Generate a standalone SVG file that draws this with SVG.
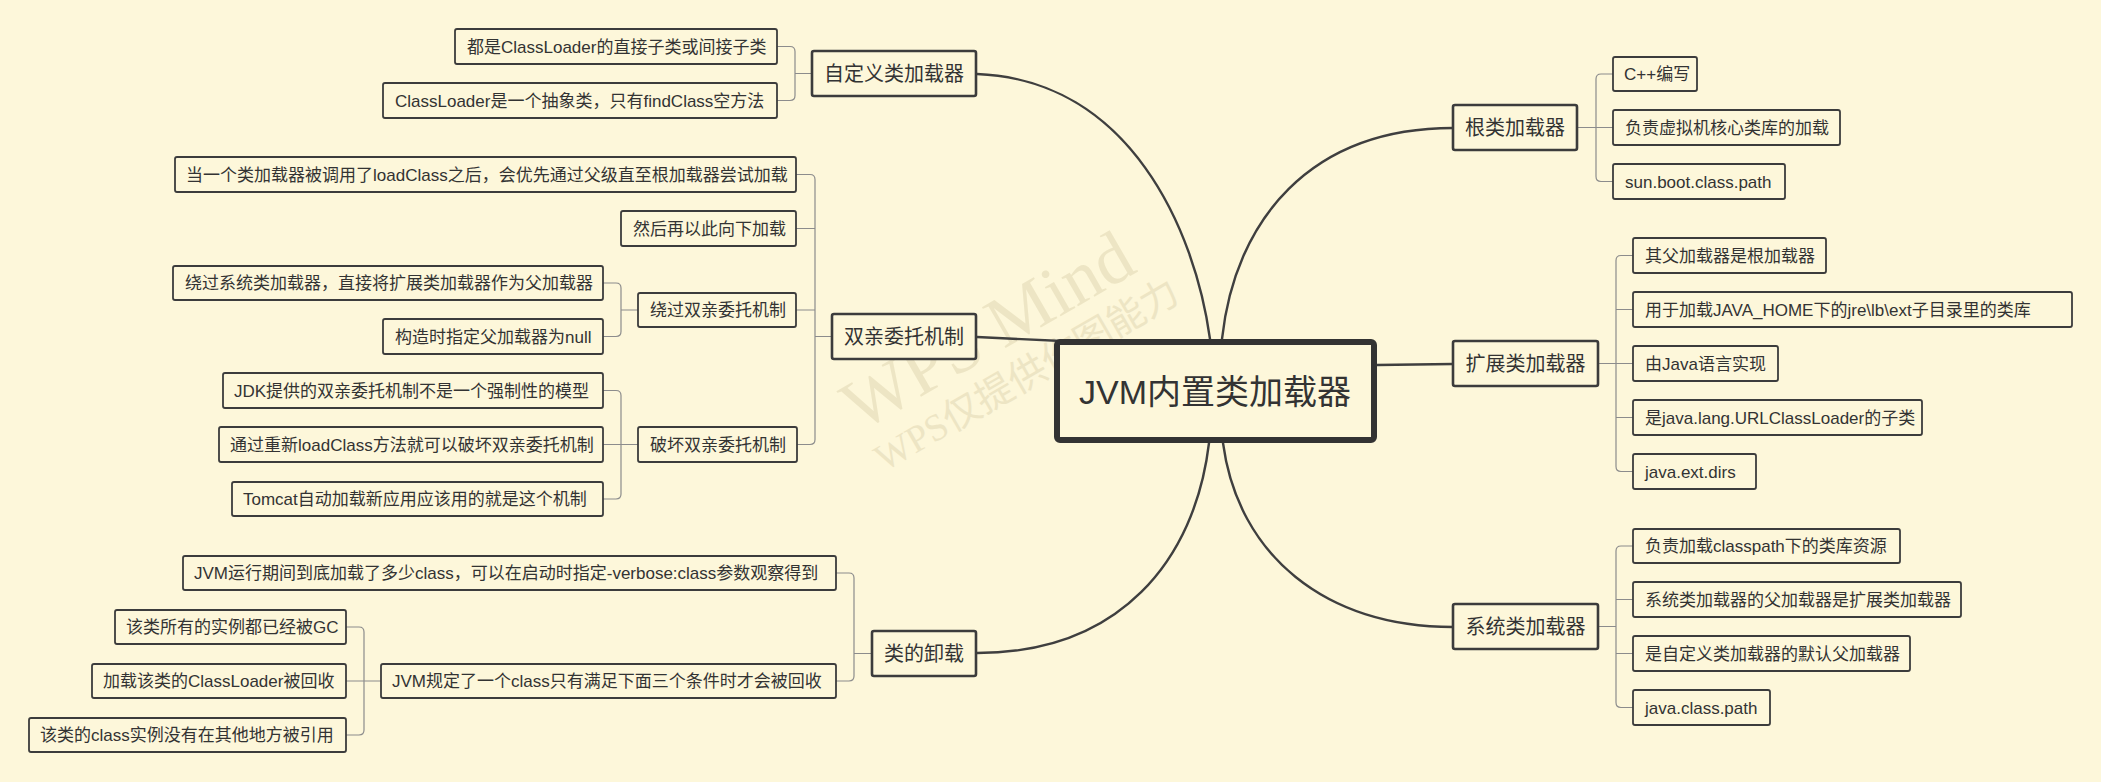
<svg xmlns="http://www.w3.org/2000/svg" width="2101" height="782" viewBox="0 0 2101 782">
<style>
text{font-family:"Liberation Sans","Noto Sans CJK SC",sans-serif;fill:#333333;}
.leaf rect{fill:#fdf7da;stroke:#3c3c3c;stroke-width:1.8;}
.leaf text{font-size:17px;text-anchor:start;}
.main rect{fill:#fdf7da;stroke:#3c3c3c;stroke-width:2.6;}
.main text{font-size:20px;text-anchor:middle;}
.br{fill:none;stroke:#8c8c8c;stroke-width:1.2;}
.trunk{fill:none;stroke:#3f3f3f;stroke-width:2.4;stroke-linecap:round;}
.wm{font-family:"Liberation Serif","Noto Sans CJK SC",serif;fill:#ede5c4;}
</style>
<rect x="0" y="0" width="2101" height="782" fill="#fdf7da"/>

<g id="watermark">
<text class="wm" x="860" y="432" font-size="72" transform="rotate(-30 860 432)">WPS Mind</text>
<text class="wm" x="884" y="472" font-size="38" transform="rotate(-30 884 472)">WPS仅提供作图能力</text>
</g>

<g id="connectors">
<path class="trunk" d="M1210,339 C1195,230 1130,80 977,74"/>
<path class="trunk" d="M1222,339 C1235,220 1310,128 1453,128"/>
<path class="trunk" d="M1209,443 C1195,560 1120,653 977,653"/>
<path class="trunk" d="M1223,443 C1238,555 1325,627 1453,627"/>
<path class="trunk" d="M977,337 L1062,341"/>
<path class="trunk" d="M1377,365 L1453,364"/>

<path class="br" d="M812,73.5 H795 M777,46.5 H790 Q795,46.5 795,51.5 V95.5 Q795,100.5 790,100.5 H777"/>
<path class="br" d="M832,336.5 H815 M796,174.5 H810 Q815,174.5 815,179.5 V439.5 Q815,444.5 810,444.5 H796 M815,228.5 H796 M815,310 H796"/>
<path class="br" d="M638,310 H621 M603,283 H616 Q621,283 621,288 V331.5 Q621,336.5 616,336.5 H603"/>
<path class="br" d="M638,444.5 H603 M603,390.5 H616 Q621,390.5 621,395.5 V494 Q621,499 616,499 H603"/>
<path class="br" d="M872,653.5 H854 M836,573 H849 Q854,573 854,578 V676 Q854,681 849,681 H836"/>
<path class="br" d="M381,681 H346 M346,627 H359 Q364,627 364,632 V730 Q364,735 359,735 H346"/>
<path class="br" d="M1577,127.5 H1613 M1613,74 H1601 Q1596,74 1596,79 V176.5 Q1596,181.5 1601,181.5 H1613"/>
<path class="br" d="M1598,363.5 H1633 M1633,255.5 H1621 Q1616,255.5 1616,260.5 V466.5 Q1616,471.5 1621,471.5 H1633 M1616,309.5 H1633 M1616,417.5 H1633"/>
<path class="br" d="M1598,626.5 H1616 M1633,546 H1621 Q1616,546 1616,551 V702.5 Q1616,707.5 1621,707.5 H1633 M1616,599.5 H1633 M1616,653.5 H1633"/>
</g>

<g id="root">
<rect x="1057" y="342" width="317" height="98" rx="3" fill="#fdf7da" stroke="#333333" stroke-width="6"/>
<text x="1215" y="404" font-size="34" text-anchor="middle">JVM内置类加载器</text>
</g>

<g id="n-custom" class="main"><rect x="812" y="51" width="164" height="45" rx="2"/><text x="894" y="80.5">自定义类加载器</text></g>
<g id="n-custom-1" class="leaf"><rect x="455" y="29" width="322" height="35" rx="2"/><text x="467" y="52.5">都是ClassLoader的直接子类或间接子类</text></g>
<g id="n-custom-2" class="leaf"><rect x="383" y="83" width="394" height="35" rx="2"/><text x="395" y="106.5">ClassLoader是一个抽象类，只有findClass空方法</text></g>

<g id="n-parent" class="main"><rect x="832" y="314" width="144" height="45" rx="2"/><text x="904" y="343.5">双亲委托机制</text></g>
<g id="n-parent-1" class="leaf"><rect x="175" y="157" width="621" height="35" rx="2"/><text x="186" y="180.5">当一个类加载器被调用了loadClass之后，会优先通过父级直至根加载器尝试加载</text></g>
<g id="n-parent-2" class="leaf"><rect x="621" y="211" width="175" height="35" rx="2"/><text x="633" y="234.5">然后再以此向下加载</text></g>
<g id="n-bypass" class="leaf"><rect x="638" y="293" width="158" height="34" rx="2"/><text x="650" y="316">绕过双亲委托机制</text></g>
<g id="n-bypass-1" class="leaf"><rect x="173" y="266" width="430" height="34" rx="2"/><text x="185" y="289">绕过系统类加载器，直接将扩展类加载器作为父加载器</text></g>
<g id="n-bypass-2" class="leaf"><rect x="383" y="319" width="220" height="35" rx="2"/><text x="395" y="342.5">构造时指定父加载器为null</text></g>
<g id="n-break" class="leaf"><rect x="638" y="427" width="159" height="35" rx="2"/><text x="650" y="450.5">破坏双亲委托机制</text></g>
<g id="n-break-1" class="leaf"><rect x="223" y="373" width="380" height="35" rx="2"/><text x="234" y="396.5">JDK提供的双亲委托机制不是一个强制性的模型</text></g>
<g id="n-break-2" class="leaf"><rect x="219" y="427" width="384" height="35" rx="2"/><text x="230" y="450.5">通过重新loadClass方法就可以破坏双亲委托机制</text></g>
<g id="n-break-3" class="leaf"><rect x="232" y="482" width="371" height="34" rx="2"/><text x="243" y="505">Tomcat自动加载新应用应该用的就是这个机制</text></g>

<g id="n-unload" class="main"><rect x="872" y="631" width="104" height="45" rx="2"/><text x="924" y="660.5">类的卸载</text></g>
<g id="n-unload-1" class="leaf"><rect x="183" y="556" width="653" height="34" rx="2"/><text x="194" y="579">JVM运行期间到底加载了多少class，可以在启动时指定-verbose:class参数观察得到</text></g>
<g id="n-unload-2" class="leaf"><rect x="381" y="664" width="455" height="34" rx="2"/><text x="392" y="687">JVM规定了一个class只有满足下面三个条件时才会被回收</text></g>
<g id="n-unload-2a" class="leaf"><rect x="115" y="610" width="231" height="34" rx="2"/><text x="126" y="633">该类所有的实例都已经被GC</text></g>
<g id="n-unload-2b" class="leaf"><rect x="92" y="664" width="254" height="34" rx="2"/><text x="103" y="687">加载该类的ClassLoader被回收</text></g>
<g id="n-unload-2c" class="leaf"><rect x="29" y="718" width="317" height="34" rx="2"/><text x="40" y="741">该类的class实例没有在其他地方被引用</text></g>

<g id="n-boot" class="main"><rect x="1453" y="105" width="124" height="45" rx="2"/><text x="1515" y="134.5">根类加载器</text></g>
<g id="n-boot-1" class="leaf"><rect x="1613" y="57" width="84" height="34" rx="2"/><text x="1624" y="80">C++编写</text></g>
<g id="n-boot-2" class="leaf"><rect x="1613" y="110" width="227" height="35" rx="2"/><text x="1625" y="133.5">负责虚拟机核心类库的加载</text></g>
<g id="n-boot-3" class="leaf"><rect x="1613" y="164" width="172" height="35" rx="2"/><text x="1625" y="187.5">sun.boot.class.path</text></g>

<g id="n-ext" class="main"><rect x="1453" y="341" width="145" height="45" rx="2"/><text x="1525.5" y="370.5">扩展类加载器</text></g>
<g id="n-ext-1" class="leaf"><rect x="1633" y="238" width="193" height="35" rx="2"/><text x="1645" y="261.5">其父加载器是根加载器</text></g>
<g id="n-ext-2" class="leaf"><rect x="1633" y="292" width="439" height="35" rx="2"/><text x="1645" y="315.5">用于加载JAVA_HOME下的jre\lb\ext子目录里的类库</text></g>
<g id="n-ext-3" class="leaf"><rect x="1633" y="346" width="145" height="35" rx="2"/><text x="1645" y="369.5">由Java语言实现</text></g>
<g id="n-ext-4" class="leaf"><rect x="1633" y="400" width="289" height="35" rx="2"/><text x="1645" y="423.5">是java.lang.URLClassLoader的子类</text></g>
<g id="n-ext-5" class="leaf"><rect x="1633" y="454" width="123" height="35" rx="2"/><text x="1645" y="477.5">java.ext.dirs</text></g>

<g id="n-sys" class="main"><rect x="1453" y="604" width="145" height="45" rx="2"/><text x="1525.5" y="633.5">系统类加载器</text></g>
<g id="n-sys-1" class="leaf"><rect x="1633" y="529" width="267" height="34" rx="2"/><text x="1645" y="552">负责加载classpath下的类库资源</text></g>
<g id="n-sys-2" class="leaf"><rect x="1633" y="582" width="328" height="35" rx="2"/><text x="1645" y="605.5">系统类加载器的父加载器是扩展类加载器</text></g>
<g id="n-sys-3" class="leaf"><rect x="1633" y="636" width="277" height="35" rx="2"/><text x="1645" y="659.5">是自定义类加载器的默认父加载器</text></g>
<g id="n-sys-4" class="leaf"><rect x="1633" y="690" width="137" height="35" rx="2"/><text x="1645" y="713.5">java.class.path</text></g>
</svg>
